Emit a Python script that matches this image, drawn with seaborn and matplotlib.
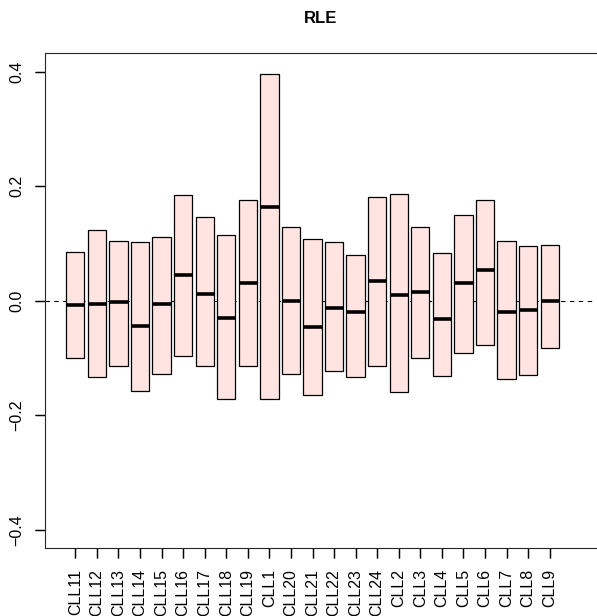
import pandas as pd
import matplotlib
matplotlib.use("Agg")
import matplotlib.pyplot as plt
import seaborn as sns

samples = ["CLL11", "CLL12", "CLL13", "CLL14", "CLL15", "CLL16", "CLL17", "CLL18",
           "CLL19", "CLL1", "CLL20", "CLL21", "CLL22", "CLL23", "CLL24", "CLL2",
           "CLL3", "CLL4", "CLL5", "CLL6", "CLL7", "CLL8", "CLL9"]
q1 = [-0.101, -0.133, -0.114, -0.158, -0.128, -0.097, -0.114, -0.171,
      -0.115, -0.172, -0.128, -0.165, -0.123, -0.134, -0.114, -0.160,
      -0.100, -0.132, -0.092, -0.078, -0.136, -0.130, -0.082]
med = [-0.007, -0.006, -0.002, -0.045, -0.006, 0.044, 0.011, -0.030,
       0.031, 0.163, 0.000, -0.046, -0.012, -0.019, 0.034, 0.009,
       0.015, -0.032, 0.030, 0.053, -0.019, -0.016, 0.000]
q3 = [0.085, 0.123, 0.104, 0.102, 0.111, 0.185, 0.146, 0.114,
      0.175, 0.396, 0.129, 0.108, 0.102, 0.079, 0.181, 0.187,
      0.128, 0.083, 0.149, 0.175, 0.104, 0.095, 0.098]
yticks = [-0.4, -0.2, 0.0, 0.2, 0.4]
ylabels = ["\u22120.4", "\u22120.2", "0.0", "0.2", "0.4"]

# five points per sample give exactly these quartiles
rows = []
for s, a, m, b in zip(samples, q1, med, q3):
    for v in (a, a, m, b, b):
        rows.append({"sample": s, "rle": v})
df = pd.DataFrame(rows)

sns.set_style("ticks")
plt.rcParams.update({
    "font.family": ["Liberation Sans", "DejaVu Sans"],
    "text.color": "black",
    "xtick.color": "black",
    "ytick.color": "black",
})

fig = plt.figure(figsize=(5.97, 6.16), dpi=100)
ax = fig.add_axes([0.0749, 0.1104, 0.9235, 0.8031])

sns.boxplot(data=df, x="sample", y="rle", order=samples, ax=ax,
            color="#FFE4E1", width=0.85, whis=0, showfliers=False, showcaps=False,
            boxprops=dict(edgecolor="black", linewidth=0.9),
            medianprops=dict(color="black", linewidth=2.6),
            whiskerprops=dict(linewidth=0), saturation=1)

ax.axhline(0, color="black", linestyle=(0, (4, 4)), linewidth=0.8, zorder=0)

ax.set_xlim(-1.42, 24.15)
ax.set_ylim(-0.432, 0.432)
ax.set_yticks(yticks)
ax.set_yticklabels(ylabels, rotation=90, va="center")
ax.set_xticks(range(len(samples)))
ax.set_xticklabels(samples, rotation=90)
ax.tick_params(axis="both", which="major", labelsize=11.5, length=7, width=0.9, pad=8)
ax.set_xlabel("")
ax.set_ylabel("")
ax.set_title("RLE", fontsize=12, fontweight="bold", pad=22)
ax.spines["right"].set_visible(False)

# tick marks as plain lines too (7 pt outside the axes)
ax.vlines(ax.get_xticks(), -0.0196, 0, transform=ax.get_xaxis_transform(),
          colors="black", linewidth=0.9, clip_on=False)
ax.hlines(ax.get_yticks(), -0.0176, 0, transform=ax.get_yaxis_transform(),
          colors="black", linewidth=0.9, clip_on=False)

fig.savefig("out.png", dpi=100)
